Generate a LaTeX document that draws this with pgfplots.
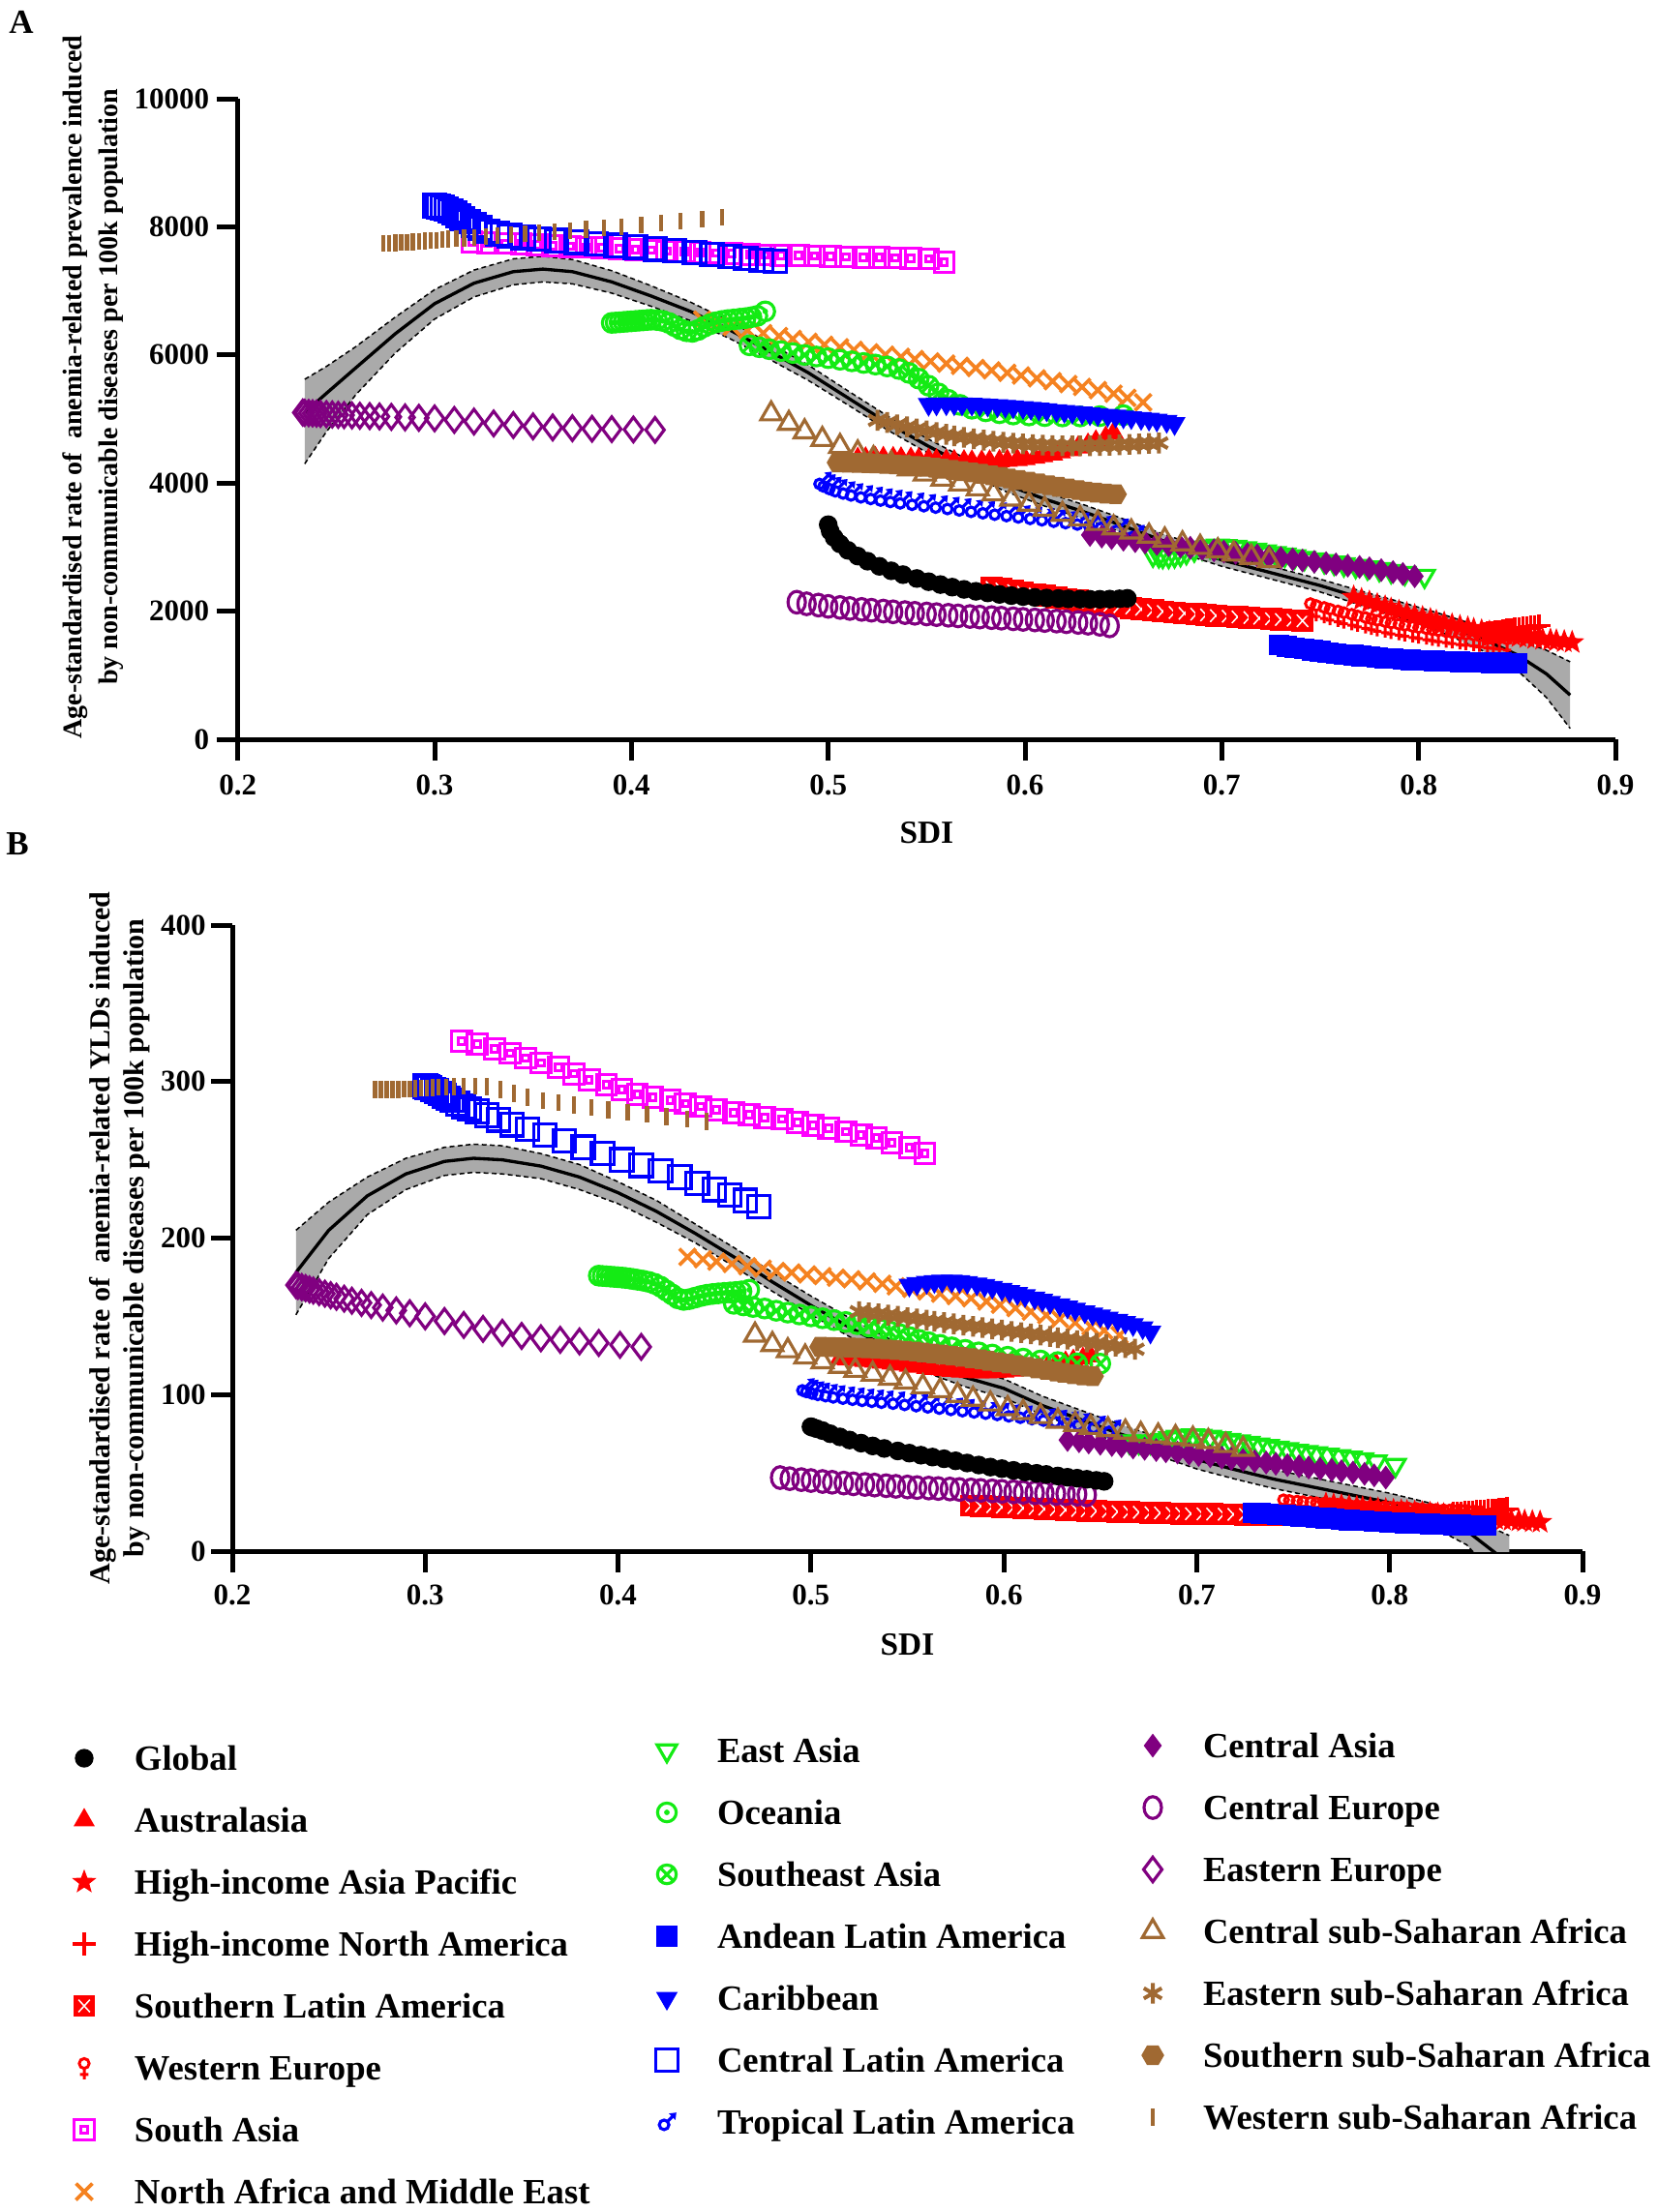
\documentclass[border=0pt]{standalone}
\usepackage{fontspec}
\setmainfont{Liberation Serif}
\usepackage{pgfplots}
\pgfplotsset{compat=1.18}
\usepgfplotslibrary{fillbetween}
\usetikzlibrary{plotmarks}

\definecolor{cRed}{RGB}{255,0,0}
\definecolor{cMag}{RGB}{255,0,255}
\definecolor{cOra}{RGB}{245,130,32}
\definecolor{cGre}{RGB}{20,235,20}
\definecolor{cBlu}{RGB}{0,0,255}
\definecolor{cPur}{RGB}{128,0,128}
\definecolor{cBro}{RGB}{160,105,50}
\definecolor{cGra}{RGB}{170,170,170}

\pgfdeclareplotmark{fstar}{%
\pgfpathmoveto{\pgfpointpolar{90}{\pgfplotmarksize}}%
\pgfpathlineto{\pgfpointpolar{126}{0.42\pgfplotmarksize}}%
\pgfpathlineto{\pgfpointpolar{162}{\pgfplotmarksize}}%
\pgfpathlineto{\pgfpointpolar{198}{0.42\pgfplotmarksize}}%
\pgfpathlineto{\pgfpointpolar{234}{\pgfplotmarksize}}%
\pgfpathlineto{\pgfpointpolar{270}{0.42\pgfplotmarksize}}%
\pgfpathlineto{\pgfpointpolar{306}{\pgfplotmarksize}}%
\pgfpathlineto{\pgfpointpolar{342}{0.42\pgfplotmarksize}}%
\pgfpathlineto{\pgfpointpolar{18}{\pgfplotmarksize}}%
\pgfpathlineto{\pgfpointpolar{54}{0.42\pgfplotmarksize}}%
\pgfpathclose\pgfusepathqfillstroke}
\pgfdeclareplotmark{sqx}{%
\pgfpathrectangle{\pgfpoint{-\pgfplotmarksize}{-\pgfplotmarksize}}{\pgfpoint{2\pgfplotmarksize}{2\pgfplotmarksize}}%
\pgfusepathqfillstroke
\pgfscope\pgfsetstrokecolor{white}\pgfsetlinewidth{0.45pt}%
\pgfpathmoveto{\pgfpoint{-0.55\pgfplotmarksize}{-0.6\pgfplotmarksize}}\pgfpathlineto{\pgfpoint{0.55\pgfplotmarksize}{0.6\pgfplotmarksize}}%
\pgfpathmoveto{\pgfpoint{-0.55\pgfplotmarksize}{0.6\pgfplotmarksize}}\pgfpathlineto{\pgfpoint{0.55\pgfplotmarksize}{-0.6\pgfplotmarksize}}%
\pgfusepathqstroke\endpgfscope}
\pgfdeclareplotmark{sqdot}{%
\pgfpathrectangle{\pgfpoint{-\pgfplotmarksize}{-\pgfplotmarksize}}{\pgfpoint{2\pgfplotmarksize}{2\pgfplotmarksize}}%
\pgfpathrectangle{\pgfpoint{-0.32\pgfplotmarksize}{-0.32\pgfplotmarksize}}{\pgfpoint{0.64\pgfplotmarksize}{0.64\pgfplotmarksize}}%
\pgfusepathqstroke}
\pgfdeclareplotmark{odot}{%
\pgfpathcircle{\pgfpointorigin}{\pgfplotmarksize}\pgfusepathqstroke
\pgfpathcircle{\pgfpointorigin}{0.3\pgfplotmarksize}\pgfusepathqfill}
\pgfdeclareplotmark{venus}{%
\pgfpathcircle{\pgfpoint{0pt}{0.4\pgfplotmarksize}}{0.45\pgfplotmarksize}%
\pgfpathmoveto{\pgfpoint{0pt}{-0.05\pgfplotmarksize}}\pgfpathlineto{\pgfpoint{0pt}{-1.05\pgfplotmarksize}}%
\pgfpathmoveto{\pgfpoint{-0.38\pgfplotmarksize}{-0.6\pgfplotmarksize}}\pgfpathlineto{\pgfpoint{0.38\pgfplotmarksize}{-0.6\pgfplotmarksize}}%
\pgfusepathqstroke}
\pgfdeclareplotmark{mars}{%
\pgfpathcircle{\pgfpoint{-0.28\pgfplotmarksize}{-0.28\pgfplotmarksize}}{0.48\pgfplotmarksize}%
\pgfpathmoveto{\pgfpoint{0.06\pgfplotmarksize}{0.06\pgfplotmarksize}}\pgfpathlineto{\pgfpoint{0.65\pgfplotmarksize}{0.65\pgfplotmarksize}}%
\pgfusepathqstroke
\pgfpathmoveto{\pgfpoint{0.95\pgfplotmarksize}{0.95\pgfplotmarksize}}\pgfpathlineto{\pgfpoint{0.2\pgfplotmarksize}{0.85\pgfplotmarksize}}\pgfpathlineto{\pgfpoint{0.85\pgfplotmarksize}{0.2\pgfplotmarksize}}\pgfpathclose\pgfusepathqfill}
\pgfdeclareplotmark{hexa}{%
\pgfpathmoveto{\pgfpointpolar{0}{\pgfplotmarksize}}%
\pgfpathlineto{\pgfpointpolar{60}{\pgfplotmarksize}}%
\pgfpathlineto{\pgfpointpolar{120}{\pgfplotmarksize}}%
\pgfpathlineto{\pgfpointpolar{180}{\pgfplotmarksize}}%
\pgfpathlineto{\pgfpointpolar{240}{\pgfplotmarksize}}%
\pgfpathlineto{\pgfpointpolar{300}{\pgfplotmarksize}}%
\pgfpathclose\pgfusepathqfillstroke}

\tikzset{
 sGlobal/.style={only marks, mark=*, mark size=2.7pt, black},
 sAus/.style={only marks, mark=triangle*, mark size=3.4pt, cRed},
 sHIAP/.style={only marks, mark=fstar, mark size=3.4pt, cRed},
 sHINA/.style={only marks, mark=+, mark size=3.6pt, cRed, mark options={line width=1.1pt}},
 sSLA/.style={only marks, mark=sqx, mark size=3.2pt, cRed},
 sWE/.style={only marks, mark=venus, mark size=3.4pt, cRed, mark options={line width=0.9pt}},
 sSA/.style={only marks, mark=sqdot, mark size=3.1pt, cMag, mark options={line width=0.9pt}},
 sNAME/.style={only marks, mark=x, mark size=3.6pt, cOra, mark options={line width=1.1pt}},
 sEA/.style={only marks, mark=triangle, mark size=3.5pt, cGre, mark options={rotate=180, line width=0.95pt}},
 sOce/.style={only marks, mark=odot, mark size=2.9pt, cGre, mark options={line width=0.95pt}},
 sSEA/.style={only marks, mark=otimes, mark size=2.9pt, cGre, mark options={line width=0.95pt}},
 sAnd/.style={only marks, mark=square*, mark size=3pt, cBlu},
 sCar/.style={only marks, mark=triangle*, mark size=3.5pt, cBlu, mark options={rotate=180}},
 sCLA/.style={only marks, mark=square, mark size=3.5pt, cBlu, mark options={line width=0.95pt}},
 sTLA/.style={only marks, mark=mars, mark size=3.1pt, cBlu, mark options={line width=0.95pt}},
 sCA/.style={only marks, mark=diamond*, mark size=3.4pt, cPur},
 sCE/.style={only marks, mark=o, mark size=2.7pt, cPur, mark options={yscale=1.25, line width=0.95pt}},
 sEE/.style={only marks, mark=diamond, mark size=3.8pt, cPur, mark options={line width=0.95pt}},
 sCSSA/.style={only marks, mark=triangle, mark size=3.7pt, cBro, mark options={line width=0.95pt}},
 sESSA/.style={only marks, mark=asterisk, mark size=3.2pt, cBro, mark options={line width=1.2pt}},
 sSSSA/.style={only marks, mark=hexa, mark size=3.3pt, cBro},
 sWSSA/.style={only marks, mark=|, mark size=2.6pt, cBro, mark options={line width=1.3pt}},
}

\pgfplotsset{
 panel/.style={scale only axis, axis x line*=bottom, axis y line*=left,
   axis line style={line width=1.5pt, black}, tick align=outside, major tick length=6.6pt,
   tick style={black, line width=1.5pt}, minor tick num=0,
   xmin=0.2, xmax=0.9, xtick={0.2,0.3,0.4,0.5,0.6,0.7,0.8,0.9},
   scaled ticks=false, /pgf/number format/1000 sep={}, /pgf/number format/assume math mode=true,
   tick label style={font=\fontsize{9.3}{11}\selectfont\bfseries},
   every axis x label/.style={at={(axis description cs:0.5,0)}, anchor=center, yshift=-29pt, font=\fontsize{10}{12}\selectfont\bfseries},
   set layers, clip=true},
 fitband/.style={black, dash pattern=on 1.5pt off 1pt, line width=0.45pt},
 legcol/.style={hide axis, scale only axis, width=1pt, height=1pt, anchor=north west,
   xmin=0, xmax=1, ymin=0, ymax=1,
   legend image code/.code={\path[draw=none,fill=none] (-6pt,-2.4pt) rectangle (15.6pt,7.6pt); \draw[##1] plot coordinates {(0pt,3.7pt)};},
   legend style={draw=none, fill=none, at={(0,1)}, anchor=north west, inner sep=0pt, outer sep=0pt,
     row sep=9.2pt, column sep=0pt, font=\fontsize{11}{13}\selectfont\bfseries,
     nodes={inner sep=0pt, outer sep=0pt, anchor=base west, text height=7.6pt, text depth=2.4pt}}},
}

\begin{document}
\begin{tikzpicture}
\path (0,0) rectangle (513.9pt,-685.8pt);
\node[font=\fontsize{10.5}{12}\selectfont\bfseries] at (6.6pt,-6.9pt) {A};
\node[font=\fontsize{10.5}{12}\selectfont\bfseries] at (5.4pt,-261.6pt) {B};

% ---------------- Panel A ----------------
\begin{axis}[panel, at={(73.71pt,-229.2pt)}, anchor=south west, width=427pt, height=198.6pt,
  ymin=0, ymax=10000, ytick={0,2000,4000,6000,8000,10000},
  x tick label style={anchor=center, yshift=-7.5pt},
  y tick label style={anchor=east, inner sep=0pt, xshift=-2.1pt},
  xlabel={SDI},
  ylabel={Age-standardised rate of\ \ anemia-related prevalence induced\\by non-communicable diseases per 100k population},
  every axis y label/.style={at={(axis description cs:-0.105,0.55)}, rotate=90, anchor=center, align=center, font=\fontsize{8.4}{11.1}\selectfont\bfseries}]
\addplot[fitband, name path=AU] coordinates {(0.234,5620)(0.245,5820)(0.26,6130)(0.28,6590)(0.30,7020)(0.32,7325)(0.34,7500)(0.355,7540)(0.37,7490)(0.39,7315)(0.41,7080)(0.43,6825)(0.45,6525)(0.47,6185)(0.49,5840)(0.51,5440)(0.53,5050)(0.55,4700)(0.57,4380)(0.59,4090)(0.61,3860)(0.63,3660)(0.65,3440)(0.67,3205)(0.70,2900)(0.73,2660)(0.75,2500)(0.77,2320)(0.79,2150)(0.81,1970)(0.83,1775)(0.85,1560)(0.865,1390)(0.877,1210)};
\addplot[fitband, name path=AL] coordinates {(0.234,4300)(0.245,4800)(0.26,5380)(0.28,6030)(0.30,6560)(0.32,6905)(0.34,7095)(0.355,7140)(0.37,7110)(0.39,6965)(0.41,6760)(0.43,6535)(0.45,6255)(0.47,5935)(0.49,5600)(0.51,5220)(0.53,4830)(0.55,4480)(0.57,4160)(0.59,3870)(0.61,3640)(0.63,3440)(0.65,3220)(0.67,2995)(0.70,2700)(0.73,2460)(0.75,2300)(0.77,2100)(0.79,1910)(0.81,1690)(0.83,1425)(0.85,1080)(0.865,650)(0.877,170)};
\addplot[cGra] fill between[of=AU and AL];
\addplot[black, line width=1pt] coordinates {(0.234,5100)(0.245,5400)(0.26,5800)(0.28,6330)(0.30,6800)(0.32,7120)(0.34,7300)(0.355,7340)(0.37,7300)(0.39,7140)(0.41,6920)(0.43,6680)(0.45,6390)(0.47,6060)(0.49,5720)(0.51,5330)(0.53,4940)(0.55,4590)(0.57,4270)(0.59,3980)(0.61,3750)(0.63,3550)(0.65,3330)(0.67,3100)(0.70,2800)(0.73,2560)(0.75,2400)(0.77,2210)(0.79,2030)(0.81,1830)(0.83,1600)(0.85,1320)(0.865,1020)(0.877,690)};
% Australasia
\addplot[sAus] coordinates {(0.515,4380)(0.519,4385)(0.524,4390)(0.528,4392)(0.533,4390)(0.537,4385)(0.542,4380)(0.546,4372)(0.551,4365)(0.555,4357)(0.560,4350)(0.564,4344)(0.569,4340)(0.573,4337)(0.578,4336)(0.582,4338)(0.587,4342)(0.591,4350)(0.596,4362)(0.600,4378)(0.605,4398)(0.609,4422)(0.614,4450)(0.618,4482)(0.623,4518)(0.627,4558)(0.632,4600)(0.636,4650)(0.641,4710)(0.645,4780)};
% HIAP
\addplot[sHIAP] coordinates {(0.767,2220)(0.771,2180)(0.775,2140)(0.779,2100)(0.783,2065)(0.786,2030)(0.790,1995)(0.794,1962)(0.798,1930)(0.802,1898)(0.806,1868)(0.809,1840)(0.813,1812)(0.817,1785)(0.821,1760)(0.825,1736)(0.828,1713)(0.832,1692)(0.836,1672)(0.840,1653)(0.844,1635)(0.848,1618)(0.851,1602)(0.855,1588)(0.859,1574)(0.863,1561)(0.867,1548)(0.870,1536)(0.874,1524)(0.878,1512)};
% HINA
\addplot[sHINA] coordinates {(0.833,1650)(0.835,1660)(0.837,1668)(0.839,1676)(0.841,1684)(0.843,1692)(0.845,1700)(0.847,1708)(0.849,1716)(0.851,1724)(0.853,1732)(0.855,1740)(0.857,1750)(0.859,1760)(0.861,1775)};
% SLA
\addplot[sSLA] coordinates {(0.583,2370)(0.588,2345)(0.594,2320)(0.599,2294)(0.605,2268)(0.610,2242)(0.616,2216)(0.621,2190)(0.627,2165)(0.632,2140)(0.638,2116)(0.643,2093)(0.648,2071)(0.654,2050)(0.659,2030)(0.665,2012)(0.670,1995)(0.676,1980)(0.681,1966)(0.687,1953)(0.692,1941)(0.697,1930)(0.703,1920)(0.708,1910)(0.714,1900)(0.719,1890)(0.725,1880)(0.730,1870)(0.736,1860)(0.741,1850)};
% WE
\addplot[sWE] coordinates {(0.745,2050)(0.748,2020)(0.752,1990)(0.755,1962)(0.759,1935)(0.762,1908)(0.766,1882)(0.769,1857)(0.773,1833)(0.776,1810)(0.779,1788)(0.783,1767)(0.786,1747)(0.790,1728)(0.793,1709)(0.797,1691)(0.800,1674)(0.804,1657)(0.807,1641)(0.810,1626)(0.814,1611)(0.817,1597)(0.821,1583)(0.824,1570)(0.828,1557)(0.831,1544)(0.835,1532)(0.838,1520)(0.841,1508)(0.845,1496)};
% South Asia
\addplot[sSA] coordinates {(0.319,7760)(0.327,7750)(0.336,7740)(0.344,7730)(0.352,7718)(0.360,7706)(0.369,7694)(0.377,7682)(0.385,7670)(0.394,7658)(0.402,7646)(0.410,7634)(0.418,7622)(0.427,7611)(0.435,7600)(0.443,7590)(0.451,7580)(0.460,7571)(0.468,7563)(0.476,7556)(0.485,7549)(0.493,7543)(0.501,7537)(0.509,7531)(0.518,7526)(0.526,7520)(0.534,7515)(0.542,7508)(0.551,7500)(0.559,7450)};
% NAME
\addplot[sNAME] coordinates {(0.436,6550)(0.444,6490)(0.451,6435)(0.459,6385)(0.467,6340)(0.475,6295)(0.482,6250)(0.490,6205)(0.498,6160)(0.506,6120)(0.513,6080)(0.521,6040)(0.529,6005)(0.537,5970)(0.544,5935)(0.552,5900)(0.560,5865)(0.567,5830)(0.575,5795)(0.583,5760)(0.591,5720)(0.598,5680)(0.606,5635)(0.614,5590)(0.622,5545)(0.629,5500)(0.637,5450)(0.645,5395)(0.652,5330)(0.660,5260)};
% East Asia
\addplot[sEA] coordinates {(0.665,2880)(0.668,2870)(0.670,2860)(0.673,2860)(0.676,2870)(0.679,2890)(0.682,2920)(0.686,2960)(0.690,2990)(0.694,3010)(0.698,3020)(0.702,3015)(0.707,3000)(0.712,2980)(0.717,2955)(0.722,2930)(0.727,2905)(0.732,2880)(0.737,2855)(0.742,2830)(0.747,2805)(0.752,2780)(0.757,2755)(0.762,2730)(0.768,2705)(0.774,2680)(0.780,2655)(0.786,2625)(0.793,2595)(0.803,2550)};
% Oceania
\addplot[sOce] coordinates {(0.390,6500)(0.392,6505)(0.394,6510)(0.396,6515)(0.398,6520)(0.400,6525)(0.402,6530)(0.404,6535)(0.406,6540)(0.408,6545)(0.410,6550)(0.413,6545)(0.416,6530)(0.419,6500)(0.422,6450)(0.425,6400)(0.428,6370)(0.431,6360)(0.434,6390)(0.437,6440)(0.440,6480)(0.443,6510)(0.446,6530)(0.449,6545)(0.452,6555)(0.455,6565)(0.458,6575)(0.461,6590)(0.464,6610)(0.468,6680)};
% SEA
\addplot[sSEA] coordinates {(0.460,6150)(0.465,6120)(0.470,6090)(0.476,6060)(0.482,6030)(0.488,6000)(0.494,5975)(0.500,5950)(0.506,5925)(0.512,5900)(0.518,5875)(0.524,5850)(0.530,5820)(0.536,5780)(0.541,5720)(0.546,5630)(0.551,5520)(0.556,5400)(0.561,5300)(0.567,5220)(0.573,5160)(0.580,5120)(0.587,5090)(0.594,5070)(0.602,5055)(0.610,5045)(0.619,5040)(0.628,5040)(0.638,5045)(0.650,5060)};
% Andean
\addplot[sAnd] coordinates {(0.729,1470)(0.733,1450)(0.737,1430)(0.742,1410)(0.746,1392)(0.750,1374)(0.754,1357)(0.758,1341)(0.762,1326)(0.767,1312)(0.771,1299)(0.775,1287)(0.779,1276)(0.783,1266)(0.787,1257)(0.792,1249)(0.796,1241)(0.800,1234)(0.804,1228)(0.808,1222)(0.812,1217)(0.817,1212)(0.821,1208)(0.825,1204)(0.829,1201)(0.833,1198)(0.837,1195)(0.842,1193)(0.846,1191)(0.850,1190)};
% Caribbean
\addplot[sCar] coordinates {(0.551,5230)(0.555,5235)(0.560,5238)(0.564,5238)(0.568,5236)(0.573,5232)(0.577,5226)(0.581,5219)(0.586,5210)(0.590,5200)(0.594,5190)(0.599,5180)(0.603,5168)(0.607,5156)(0.611,5144)(0.616,5132)(0.620,5120)(0.624,5108)(0.629,5095)(0.633,5082)(0.637,5070)(0.642,5058)(0.646,5046)(0.650,5034)(0.654,5022)(0.659,5010)(0.663,4998)(0.667,4985)(0.672,4965)(0.676,4930)};
% CLA
\addplot[sCLA] coordinates {(0.300,8330)(0.301,8325)(0.302,8315)(0.304,8300)(0.306,8280)(0.308,8250)(0.310,8215)(0.312,8175)(0.314,8130)(0.317,8080)(0.320,8030)(0.323,7980)(0.327,7930)(0.332,7890)(0.338,7860)(0.345,7835)(0.353,7810)(0.362,7785)(0.372,7760)(0.382,7735)(0.392,7710)(0.402,7685)(0.412,7655)(0.422,7625)(0.432,7595)(0.441,7565)(0.450,7535)(0.458,7505)(0.466,7480)(0.473,7460)};
% TLA
\addplot[sTLA] coordinates {(0.497,4030)(0.499,3990)(0.502,3950)(0.505,3915)(0.509,3880)(0.513,3850)(0.518,3820)(0.523,3795)(0.528,3770)(0.533,3748)(0.538,3726)(0.544,3704)(0.550,3682)(0.556,3660)(0.562,3638)(0.568,3616)(0.574,3594)(0.580,3572)(0.586,3550)(0.592,3528)(0.598,3506)(0.604,3484)(0.610,3462)(0.616,3440)(0.622,3418)(0.628,3396)(0.634,3372)(0.640,3345)(0.648,3300)(0.656,3200)};
% Central Asia
\addplot[sCA] coordinates {(0.633,3190)(0.639,3165)(0.644,3140)(0.650,3116)(0.656,3093)(0.661,3071)(0.667,3050)(0.673,3030)(0.679,3010)(0.684,2990)(0.690,2970)(0.696,2950)(0.701,2930)(0.707,2910)(0.713,2890)(0.718,2870)(0.724,2850)(0.730,2830)(0.736,2810)(0.741,2790)(0.747,2770)(0.753,2750)(0.758,2730)(0.764,2710)(0.770,2690)(0.775,2670)(0.781,2640)(0.787,2610)(0.792,2580)(0.798,2545)};
% Central Europe
\addplot[sCE] coordinates {(0.484,2140)(0.489,2115)(0.495,2095)(0.500,2075)(0.506,2058)(0.511,2042)(0.517,2028)(0.522,2015)(0.528,2002)(0.533,1990)(0.539,1978)(0.544,1967)(0.550,1956)(0.555,1946)(0.561,1936)(0.566,1926)(0.572,1917)(0.577,1908)(0.583,1899)(0.588,1890)(0.594,1881)(0.599,1872)(0.605,1863)(0.610,1854)(0.616,1845)(0.621,1835)(0.627,1824)(0.632,1812)(0.638,1795)(0.643,1770)};
% Eastern Europe
\addplot[sEE] coordinates {(0.233,5100)(0.234,5096)(0.236,5092)(0.238,5088)(0.240,5084)(0.242,5080)(0.245,5075)(0.248,5070)(0.251,5065)(0.254,5060)(0.258,5055)(0.262,5050)(0.267,5045)(0.272,5040)(0.278,5033)(0.285,5025)(0.292,5018)(0.300,5010)(0.310,4985)(0.320,4960)(0.330,4930)(0.340,4905)(0.350,4885)(0.360,4868)(0.370,4856)(0.380,4848)(0.390,4842)(0.401,4836)(0.412,4830)};
% CSSA
\addplot[sCSSA] coordinates {(0.471,5080)(0.480,4930)(0.488,4800)(0.497,4680)(0.506,4570)(0.515,4470)(0.523,4380)(0.532,4300)(0.541,4220)(0.549,4140)(0.558,4060)(0.567,3985)(0.576,3910)(0.584,3830)(0.593,3750)(0.602,3670)(0.610,3590)(0.619,3510)(0.628,3440)(0.637,3370)(0.645,3300)(0.654,3235)(0.663,3170)(0.671,3110)(0.680,3050)(0.689,2995)(0.698,2940)(0.706,2890)(0.715,2840)(0.724,2790)};
% ESSA
\addplot[sESSA] coordinates {(0.525,4980)(0.530,4945)(0.535,4910)(0.540,4877)(0.545,4845)(0.550,4815)(0.555,4787)(0.560,4760)(0.564,4735)(0.569,4712)(0.574,4690)(0.579,4670)(0.584,4652)(0.589,4636)(0.594,4622)(0.599,4610)(0.604,4600)(0.609,4592)(0.614,4586)(0.619,4582)(0.624,4580)(0.628,4580)(0.633,4582)(0.638,4586)(0.643,4591)(0.648,4597)(0.653,4604)(0.658,4611)(0.663,4618)(0.668,4625)};
% SSSA
\addplot[sSSSA] coordinates {(0.505,4320)(0.510,4318)(0.515,4315)(0.520,4310)(0.524,4305)(0.529,4298)(0.534,4290)(0.539,4280)(0.544,4268)(0.549,4255)(0.554,4240)(0.558,4224)(0.563,4206)(0.568,4187)(0.573,4166)(0.578,4144)(0.583,4121)(0.588,4097)(0.592,4072)(0.597,4046)(0.602,4020)(0.607,3993)(0.612,3966)(0.617,3940)(0.622,3914)(0.627,3890)(0.631,3868)(0.636,3850)(0.641,3835)(0.646,3825)};
% WSSA
\addplot[sWSSA] coordinates {(0.274,7740)(0.277,7745)(0.280,7750)(0.283,7755)(0.286,7760)(0.289,7765)(0.292,7770)(0.295,7778)(0.298,7785)(0.301,7792)(0.304,7800)(0.307,7808)(0.311,7815)(0.315,7825)(0.320,7835)(0.326,7848)(0.332,7860)(0.339,7875)(0.346,7890)(0.353,7905)(0.361,7920)(0.369,7940)(0.377,7960)(0.386,7980)(0.395,8000)(0.405,8030)(0.415,8060)(0.425,8090)(0.436,8120)(0.446,8150)};
% Global (on top)
\addplot[sGlobal] coordinates {(0.500,3350)(0.501,3250)(0.503,3150)(0.506,3050)(0.510,2950)(0.515,2860)(0.520,2780)(0.526,2700)(0.532,2630)(0.538,2570)(0.545,2510)(0.551,2460)(0.557,2415)(0.563,2375)(0.569,2340)(0.575,2310)(0.581,2285)(0.587,2262)(0.593,2243)(0.599,2228)(0.605,2215)(0.611,2205)(0.617,2198)(0.622,2192)(0.628,2188)(0.633,2185)(0.638,2185)(0.643,2188)(0.648,2193)(0.652,2200)};
\end{axis}

% ---------------- Panel B ----------------
\begin{axis}[panel, at={(72pt,-480.9pt)}, anchor=south west, width=418.5pt, height=194.1pt,
  ymin=0, ymax=400, ytick={0,100,200,300,400},
  x tick label style={anchor=center, yshift=-6.9pt},
  y tick label style={anchor=east, inner sep=0pt, xshift=-1.4pt},
  xlabel={SDI},
  ylabel={Age-standardised rate of\ \ anemia-related YLDs induced\\by non-communicable diseases per 100k population},
  every axis y label/.style={at={(axis description cs:-0.0835,0.5)}, rotate=90, anchor=center, align=center, font=\fontsize{9}{10.5}\selectfont\bfseries}]
\addplot[fitband, name path=BU] coordinates {(0.233,205)(0.25,223)(0.27,239)(0.29,251)(0.31,258)(0.325,260)(0.34,259)(0.36,254)(0.38,247)(0.40,236)(0.42,224)(0.44,209)(0.46,194)(0.48,178)(0.50,163)(0.52,149)(0.54,136)(0.56,126)(0.58,117)(0.60,110)(0.62,99)(0.64,90)(0.66,81)(0.68,73)(0.70,64.5)(0.72,58)(0.74,52)(0.76,47)(0.78,42)(0.80,37)(0.82,31)(0.84,22)(0.862,10)};
\addplot[fitband, name path=BL] coordinates {(0.233,151)(0.25,187)(0.27,215)(0.29,231)(0.31,240)(0.325,242)(0.34,241)(0.36,238)(0.38,231)(0.40,222)(0.42,210)(0.44,197)(0.46,182)(0.48,166)(0.50,151)(0.52,137)(0.54,124)(0.56,114)(0.58,105)(0.60,98)(0.62,87)(0.64,78)(0.66,69)(0.68,61)(0.70,52.5)(0.72,46)(0.74,40)(0.76,35)(0.78,30)(0.80,25)(0.82,17)(0.84,4)(0.862,-26)};
\addplot[cGra] fill between[of=BU and BL];
\addplot[black, line width=1pt] coordinates {(0.233,178)(0.25,205)(0.27,227)(0.29,241)(0.31,249)(0.325,251)(0.34,250)(0.36,246)(0.38,239)(0.40,229)(0.42,217)(0.44,203)(0.46,188)(0.48,172)(0.50,157)(0.52,143)(0.54,130)(0.56,120)(0.58,111)(0.60,104)(0.62,93)(0.64,84)(0.66,75)(0.68,67)(0.70,58.5)(0.72,52)(0.74,46)(0.76,41)(0.78,36)(0.80,31)(0.82,24)(0.84,13)(0.862,-8)};
% Australasia
\addplot[sAus] coordinates {(0.515,123)(0.519,122.6)(0.524,122.2)(0.528,121.7)(0.533,121.2)(0.537,120.6)(0.542,120)(0.546,119.3)(0.551,118.6)(0.555,117.9)(0.560,117.2)(0.564,116.5)(0.569,115.9)(0.573,115.3)(0.578,114.8)(0.582,114.5)(0.587,114.3)(0.591,114.3)(0.596,114.5)(0.600,114.9)(0.605,115.4)(0.609,116)(0.614,116.7)(0.618,117.5)(0.623,118.4)(0.627,119.4)(0.632,120.5)(0.636,121.7)(0.641,123)(0.645,124.5)};
% HIAP
\addplot[sHIAP] coordinates {(0.767,30)(0.771,29.5)(0.775,29)(0.779,28.5)(0.783,28)(0.786,27.6)(0.790,27.2)(0.794,26.8)(0.798,26.4)(0.802,26)(0.806,25.6)(0.809,25.2)(0.813,24.8)(0.817,24.4)(0.821,24)(0.825,23.6)(0.828,23.2)(0.832,22.8)(0.836,22.4)(0.840,22)(0.844,21.6)(0.848,21.2)(0.851,20.8)(0.855,20.4)(0.859,20)(0.863,19.7)(0.867,19.4)(0.870,19.1)(0.874,18.8)(0.878,18.5)};
% HINA
\addplot[sHINA] coordinates {(0.833,24)(0.835,24.2)(0.837,24.4)(0.839,24.6)(0.841,24.8)(0.843,25)(0.845,25.2)(0.847,25.4)(0.849,25.6)(0.851,25.8)(0.853,26)(0.855,26.2)(0.857,26.4)(0.859,26.7)(0.861,27)};
% SLA
\addplot[sSLA] coordinates {(0.583,29)(0.588,28.7)(0.594,28.4)(0.599,28.1)(0.605,27.8)(0.610,27.5)(0.616,27.2)(0.621,26.9)(0.627,26.6)(0.632,26.3)(0.638,26)(0.643,25.8)(0.648,25.6)(0.654,25.4)(0.659,25.2)(0.665,25)(0.670,24.8)(0.676,24.6)(0.681,24.4)(0.687,24.2)(0.692,24)(0.697,23.9)(0.703,23.8)(0.708,23.7)(0.714,23.6)(0.719,23.5)(0.725,23.4)(0.730,23.3)(0.736,23.2)(0.741,23.1)};
% WE
\addplot[sWE] coordinates {(0.745,30)(0.748,29.6)(0.752,29.2)(0.755,28.8)(0.759,28.4)(0.762,28.1)(0.766,27.8)(0.769,27.5)(0.773,27.2)(0.776,26.9)(0.779,26.6)(0.783,26.3)(0.786,26)(0.790,25.8)(0.793,25.6)(0.797,25.4)(0.800,25.2)(0.804,25)(0.807,24.8)(0.810,24.6)(0.814,24.4)(0.817,24.2)(0.821,24)(0.824,23.8)(0.828,23.6)(0.831,23.4)(0.835,23.2)(0.838,23)(0.841,22.8)(0.845,22.6)};
% South Asia
\addplot[sSA] coordinates {(0.319,326)(0.327,324)(0.336,321)(0.344,318)(0.352,315)(0.360,312)(0.369,309)(0.377,305)(0.385,301)(0.394,298)(0.402,295)(0.410,292)(0.418,290)(0.427,288)(0.435,286)(0.443,284)(0.451,282)(0.460,280)(0.468,279)(0.476,277)(0.485,276)(0.493,274)(0.501,272)(0.509,270)(0.518,268)(0.526,266)(0.534,264)(0.542,261)(0.551,258)(0.559,254)};
% NAME
\addplot[sNAME] coordinates {(0.436,188)(0.444,186.5)(0.451,185)(0.459,183.5)(0.467,182)(0.475,180.5)(0.482,179)(0.490,178)(0.498,176.8)(0.506,175.7)(0.513,174.7)(0.521,173.7)(0.529,172.3)(0.537,170.8)(0.544,169.2)(0.552,167.6)(0.560,166)(0.567,164.5)(0.575,163)(0.583,161.5)(0.591,159.5)(0.598,157.5)(0.606,155.3)(0.614,153)(0.622,150.7)(0.629,148.4)(0.637,146)(0.645,143.5)(0.652,141)(0.660,138)};
% East Asia
\addplot[sEA] coordinates {(0.665,70)(0.668,69.8)(0.670,69.6)(0.673,69.6)(0.676,69.8)(0.679,70.2)(0.682,71)(0.686,72)(0.690,73)(0.694,73.6)(0.698,73.8)(0.702,73.6)(0.707,73)(0.712,72)(0.717,71)(0.722,70)(0.727,69)(0.732,68)(0.737,67)(0.742,66)(0.747,65)(0.752,64)(0.757,63.2)(0.762,62.4)(0.768,61.5)(0.774,60.6)(0.780,59.6)(0.786,58.5)(0.793,57.2)(0.803,55)};
% Oceania
\addplot[sOce] coordinates {(0.390,176)(0.392,175.8)(0.394,175.6)(0.396,175.4)(0.398,175.2)(0.400,175)(0.402,174.8)(0.404,174.5)(0.406,174.2)(0.408,173.8)(0.410,173.4)(0.413,172.8)(0.416,172)(0.419,170.8)(0.422,169)(0.425,166.5)(0.428,164)(0.431,161.5)(0.434,160.5)(0.437,161)(0.440,162)(0.443,163)(0.446,163.8)(0.449,164.3)(0.452,164.7)(0.455,165)(0.458,165.3)(0.461,165.6)(0.464,166)(0.468,167)};
% SEA
\addplot[sSEA] coordinates {(0.460,158)(0.465,157)(0.470,156)(0.476,155)(0.482,153.6)(0.488,152.4)(0.494,151.2)(0.500,150)(0.506,148.8)(0.512,147.6)(0.518,146.4)(0.524,145)(0.530,143.5)(0.536,141.8)(0.541,140.3)(0.546,138.6)(0.551,136.8)(0.556,135)(0.561,133.5)(0.567,131.8)(0.573,130.2)(0.580,128.6)(0.587,127)(0.594,125.6)(0.602,124.2)(0.610,123)(0.619,121.8)(0.628,120.8)(0.638,120)(0.650,119.8)};
% Andean
\addplot[sAnd] coordinates {(0.729,24.6)(0.733,24.2)(0.737,23.8)(0.742,23.4)(0.746,23)(0.750,22.6)(0.754,22.2)(0.758,21.8)(0.762,21.4)(0.767,21)(0.771,20.6)(0.775,20.2)(0.779,19.9)(0.783,19.6)(0.787,19.3)(0.792,19)(0.796,18.7)(0.800,18.4)(0.804,18.1)(0.808,17.9)(0.812,17.7)(0.817,17.5)(0.821,17.3)(0.825,17.1)(0.829,16.9)(0.833,16.8)(0.837,16.7)(0.842,16.6)(0.846,16.5)(0.850,16.4)};
% Caribbean
\addplot[sCar] coordinates {(0.551,170)(0.555,171)(0.560,171.8)(0.564,172.3)(0.568,172.6)(0.573,172.6)(0.577,172.3)(0.581,171.7)(0.586,170.8)(0.590,169.8)(0.594,168.6)(0.599,167.3)(0.603,166)(0.607,164.7)(0.611,163.3)(0.616,161.8)(0.620,160.4)(0.624,159)(0.629,157.4)(0.633,156)(0.637,154.6)(0.642,153)(0.646,151.6)(0.650,150.3)(0.654,149)(0.659,147.6)(0.663,146.2)(0.667,144.8)(0.672,142.8)(0.676,140)};
% CLA
\addplot[sCLA] coordinates {(0.300,297)(0.301,296.5)(0.302,296)(0.304,295)(0.306,294)(0.308,292.5)(0.310,291)(0.312,289.5)(0.314,288)(0.317,286)(0.320,284)(0.323,282.5)(0.327,281)(0.332,278.5)(0.338,275.5)(0.345,272.5)(0.353,269.5)(0.362,266)(0.372,262)(0.382,258)(0.392,254)(0.402,250)(0.412,246.5)(0.422,243)(0.432,239)(0.441,235)(0.450,231)(0.458,227.5)(0.466,224)(0.473,220)};
% TLA
\addplot[sTLA] coordinates {(0.497,104.5)(0.499,103.5)(0.502,102.5)(0.505,101.6)(0.509,100.8)(0.513,100)(0.518,99.2)(0.523,98.5)(0.528,97.8)(0.533,97.2)(0.538,96.6)(0.544,96)(0.550,95.2)(0.556,94.4)(0.562,93.6)(0.568,92.8)(0.574,92)(0.580,91.2)(0.586,90.4)(0.592,89.6)(0.598,88.8)(0.604,87.9)(0.610,87)(0.616,86.1)(0.622,85.2)(0.628,84.3)(0.634,83.3)(0.640,82.2)(0.648,80.5)(0.656,78)};
% Central Asia
\addplot[sCA] coordinates {(0.633,71)(0.639,70.2)(0.644,69.4)(0.650,68.6)(0.656,67.8)(0.661,67)(0.667,66.2)(0.673,65.4)(0.679,64.6)(0.684,63.8)(0.690,63)(0.696,62.2)(0.701,61.4)(0.707,60.6)(0.713,59.8)(0.718,59)(0.724,58.2)(0.730,57.4)(0.736,56.6)(0.741,55.8)(0.747,55)(0.753,54.2)(0.758,53.4)(0.764,52.6)(0.770,51.8)(0.775,51)(0.781,50.2)(0.787,49.4)(0.792,48.4)(0.798,47)};
% Central Europe
\addplot[sCE] coordinates {(0.484,47)(0.489,46.3)(0.495,45.7)(0.500,45.1)(0.506,44.5)(0.511,44)(0.517,43.5)(0.522,43)(0.528,42.6)(0.533,42.2)(0.539,41.8)(0.544,41.4)(0.550,41)(0.555,40.6)(0.561,40.3)(0.566,40)(0.572,39.7)(0.577,39.4)(0.583,39.1)(0.588,38.8)(0.594,38.5)(0.599,38.2)(0.605,37.9)(0.610,37.6)(0.616,37.3)(0.621,37)(0.627,36.8)(0.632,36.6)(0.638,36.4)(0.643,36)};
% Eastern Europe
\addplot[sEE] coordinates {(0.233,170)(0.234,169.5)(0.236,168.7)(0.238,168)(0.240,167.2)(0.242,166.5)(0.245,165.5)(0.248,164.5)(0.251,163.5)(0.254,162.5)(0.258,161.3)(0.262,160)(0.267,158.6)(0.272,157.2)(0.278,155.6)(0.285,153.8)(0.292,152)(0.300,150)(0.310,147)(0.320,144.5)(0.330,142)(0.340,139.5)(0.350,137.5)(0.360,136)(0.370,135)(0.380,134)(0.390,133)(0.401,131.8)(0.412,130.5)};
% CSSA
\addplot[sCSSA] coordinates {(0.471,138)(0.480,132)(0.488,128)(0.497,124)(0.506,121)(0.515,118)(0.523,115.5)(0.532,113)(0.541,110.5)(0.549,108)(0.558,105)(0.567,102.5)(0.576,99.5)(0.584,97)(0.593,94)(0.602,91)(0.610,88.5)(0.619,86)(0.628,83)(0.637,81)(0.645,79)(0.654,77.5)(0.663,76)(0.671,74.5)(0.680,73.5)(0.689,72.5)(0.698,71.5)(0.706,70)(0.715,67.5)(0.724,65)};
% ESSA
\addplot[sESSA] coordinates {(0.525,153)(0.530,152.3)(0.535,151.6)(0.540,150.8)(0.545,150)(0.550,149.2)(0.555,148.4)(0.560,147.6)(0.564,146.8)(0.569,146)(0.574,145.2)(0.579,144.4)(0.584,143.6)(0.589,142.8)(0.594,142)(0.599,141.2)(0.604,140.4)(0.609,139.6)(0.614,138.8)(0.619,138)(0.624,137.2)(0.628,136.3)(0.633,135.4)(0.638,134.5)(0.643,133.6)(0.648,132.7)(0.653,131.8)(0.658,130.9)(0.663,130)(0.668,129)};
% SSSA
\addplot[sSSSA] coordinates {(0.505,130.5)(0.510,130.4)(0.515,130.3)(0.520,130.1)(0.524,129.9)(0.529,129.6)(0.534,129.3)(0.539,128.9)(0.544,128.5)(0.549,128)(0.554,127.5)(0.558,126.9)(0.563,126.3)(0.568,125.6)(0.573,124.9)(0.578,124.1)(0.583,123.3)(0.588,122.5)(0.592,121.6)(0.597,120.7)(0.602,119.8)(0.607,118.8)(0.612,117.8)(0.617,116.8)(0.622,115.8)(0.627,114.8)(0.631,113.9)(0.636,113)(0.641,112.3)(0.646,111.8)};
% WSSA
\addplot[sWSSA] coordinates {(0.274,295)(0.277,295)(0.280,295)(0.283,295)(0.286,295)(0.289,295.2)(0.292,295.4)(0.295,295.6)(0.298,295.8)(0.301,296)(0.304,296.2)(0.307,296.4)(0.311,296.6)(0.315,296.8)(0.320,297)(0.326,297)(0.332,296.8)(0.339,295)(0.346,292.5)(0.353,290)(0.361,288)(0.369,286.5)(0.377,285)(0.386,283.5)(0.395,282)(0.405,280.5)(0.415,279)(0.425,277.5)(0.436,276)(0.446,274.5)};
% Global
\addplot[sGlobal] coordinates {(0.500,79.5)(0.501,79)(0.503,78.2)(0.506,77)(0.510,75)(0.515,73)(0.520,71)(0.526,69)(0.532,67.2)(0.538,65.6)(0.545,64)(0.551,62.6)(0.557,61.3)(0.563,60.1)(0.569,59)(0.575,57.7)(0.581,56.3)(0.587,55)(0.593,53.7)(0.599,52.7)(0.605,51.6)(0.611,50.6)(0.617,49.7)(0.622,49)(0.628,48)(0.633,47.2)(0.638,46.6)(0.643,45.9)(0.648,45.2)(0.652,44.6)};
\end{axis}

% ---------------- Legend ----------------
\begin{axis}[legcol, at={(20.1pt,-541.2pt)}]
\addlegendimage{sGlobal}\addlegendentry{Global}
\addlegendimage{sAus}\addlegendentry{Australasia}
\addlegendimage{sHIAP}\addlegendentry{High-income Asia Pacific}
\addlegendimage{sHINA}\addlegendentry{High-income North America}
\addlegendimage{sSLA}\addlegendentry{Southern Latin America}
\addlegendimage{sWE}\addlegendentry{Western Europe}
\addlegendimage{sSA}\addlegendentry{South Asia}
\addlegendimage{sNAME}\addlegendentry{North Africa and Middle East}
\end{axis}
\begin{axis}[legcol, at={(200.7pt,-538.8pt)}]
\addlegendimage{sEA}\addlegendentry{East Asia}
\addlegendimage{sOce}\addlegendentry{Oceania}
\addlegendimage{sSEA}\addlegendentry{Southeast Asia}
\addlegendimage{sAnd}\addlegendentry{Andean Latin America}
\addlegendimage{sCar}\addlegendentry{Caribbean}
\addlegendimage{sCLA}\addlegendentry{Central Latin America}
\addlegendimage{sTLA}\addlegendentry{Tropical Latin America}
\end{axis}
\begin{axis}[legcol, at={(351.3pt,-537.3pt)}]
\addlegendimage{sCA}\addlegendentry{Central Asia}
\addlegendimage{sCE}\addlegendentry{Central Europe}
\addlegendimage{sEE}\addlegendentry{Eastern Europe}
\addlegendimage{sCSSA}\addlegendentry{Central sub-Saharan Africa}
\addlegendimage{sESSA}\addlegendentry{Eastern sub-Saharan Africa}
\addlegendimage{sSSSA}\addlegendentry{Southern sub-Saharan Africa}
\addlegendimage{sWSSA}\addlegendentry{Western sub-Saharan Africa}
\end{axis}
\pgfresetboundingbox
\useasboundingbox (0,0) rectangle (513.9pt,-685.8pt);
\end{tikzpicture}
\end{document}
